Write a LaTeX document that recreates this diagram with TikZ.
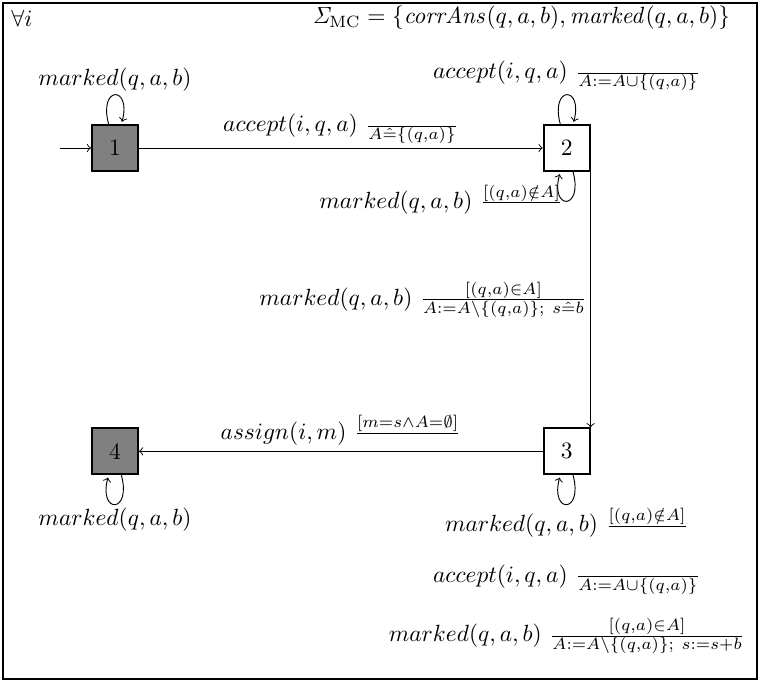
\documentclass[tikz,border=0pt]{standalone}
\usepackage{amsmath}
\usepackage{amssymb}
\usepackage{tikz}
\usetikzlibrary{positioning}
\usetikzlibrary{arrows}

\begin{document}
\begin{tikzpicture}
\tikzstyle{state}=[rectangle, minimum size = 6.9mm, thick, draw =black, fill=white]
\tikzstyle{final}=[rectangle, minimum size = 6.9mm, thick, draw =black, fill=gray]
\tikzstyle{lab}=[inner sep=1.5pt]
\tikzstyle{connect}=[->]
\useasboundingbox (0,0) rectangle (11.4,-10.23);
\draw[thick] (0.05,-0.05) rectangle (11.35,-10.18);

	\node[] (forall) at (0.33,-0.27) {$\forall i$};
	\node[] (sigma) at (7.82,-0.27) {$\mathit{\Sigma}_{\mathrm{MC}} = \{\mathit{corrAns}(q,a,b), \mathit{marked}(q,a,b)\}$};

	\node[final] (q1) at (1.725,-2.22) {1};
	\node[state] (q2) at (8.5,-2.22) {2};
	\node[state] (q3) at (8.5,-6.77) {3};
	\node[final] (q4) at (1.725,-6.77) {4};
	\coordinate (start) at (0.9,-2.22);

	\path[connect]
		(start) edge [] (q1)
		(q1) edge [] node[lab,above] {$accept(i,q,a)\ \frac{}{A\hat{=}\{(q,a)\}}$} (q2)
		(q2.south east) edge [] node[lab,left] {$marked(q,a,b)\ \frac{[(q,a)\in A]}{A:=A\setminus\{(q,a)\};\ s\hat{=}b}$} (q3.north east)
		(q3) edge [] node[lab,above] {$assign(i,m)\ \frac{[m=s\wedge A=\emptyset]}{}$} (q4);

	\path[connect]
		(q1) edge [loop above] node[lab,above] {$marked(q,a,b)$} ()
		(q2) edge [loop above] node[lab,above] {$accept(i,q,a)\ \frac{}{A:=A\cup\{(q,a)\}}$} ()
		(q2) edge [loop below] node[lab,left] {$marked(q,a,b)\ \frac{[(q,a)\notin A]}{}$} ()
		(q3) edge [loop below] node[lab,below] (l3a) {$marked(q,a,b)\ \frac{[(q,a)\notin A]}{}$} ()
		(q4) edge [loop below] node[lab,below] {$marked(q,a,b)$} ();

	\node[lab, below=0.83cm of l3a.center, anchor=center] (l3b) {$accept(i,q,a)\ \frac{}{A:=A\cup\{(q,a)\}}$};
	\node[lab, below=0.85cm of l3b.center, anchor=center] (l3c) {$marked(q,a,b)\ \frac{[(q,a)\in A]}{A:=A\setminus\{(q,a)\};\ s:=s+b}$};

\end{tikzpicture}
\end{document}
